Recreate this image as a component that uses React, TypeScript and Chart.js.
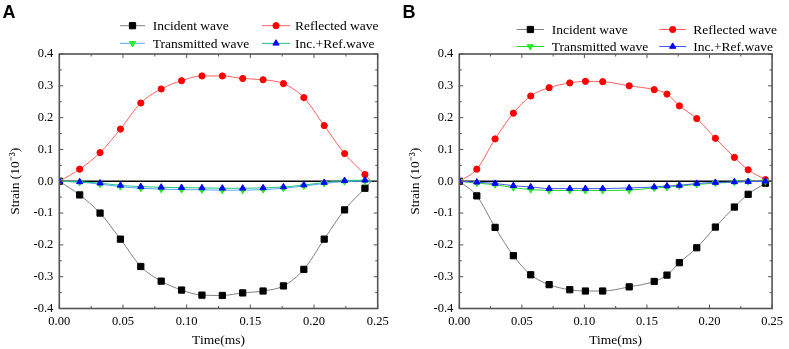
import React, { useEffect, useRef } from "react";
import { Chart, registerables } from "chart.js";
Chart.register(...registerables);

// ---------- Data ----------
const seriesNames = ["Incident wave", "Reflected wave", "Transmitted wave", "Inc.+Ref.wave"];

const timeA = [0, 0.016, 0.032, 0.048, 0.064, 0.08, 0.096, 0.112, 0.128, 0.144, 0.16, 0.176, 0.192, 0.208, 0.224, 0.24, 0.245];
const incidentA = [0, -0.043, -0.1, -0.182, -0.268, -0.314, -0.342, -0.358, -0.359, -0.351, -0.345, -0.329, -0.277, -0.182, -0.09, -0.022, 0];
const reflectedA = [0, 0.038, 0.09, 0.164, 0.246, 0.29, 0.316, 0.331, 0.331, 0.323, 0.319, 0.307, 0.263, 0.175, 0.087, 0.021, 0];
const transmittedA = [0, -0.003, -0.009, -0.017, -0.022, -0.025, -0.026, -0.027, -0.028, -0.028, -0.026, -0.022, -0.015, -0.007, -0.001, 0.0, 0];
const incRefA = [0, -0.002, -0.006, -0.013, -0.017, -0.019, -0.02, -0.021, -0.022, -0.022, -0.021, -0.018, -0.012, -0.004, 0.002, 0.003, 0];

const timeB = [0, 0.014, 0.0286, 0.0432, 0.0571, 0.0718, 0.0883, 0.1008, 0.1146, 0.1358, 0.1558, 0.166, 0.1759, 0.1898, 0.2047, 0.2199, 0.2309, 0.2447];
const incidentB = [0, -0.046, -0.145, -0.234, -0.294, -0.325, -0.341, -0.345, -0.345, -0.332, -0.315, -0.295, -0.256, -0.209, -0.144, -0.081, -0.041, -0.006];
const reflectedB = [0, 0.038, 0.133, 0.214, 0.268, 0.294, 0.309, 0.314, 0.313, 0.3, 0.288, 0.274, 0.237, 0.197, 0.135, 0.075, 0.036, 0.005];
const transmittedB = [0, -0.006, -0.011, -0.02, -0.026, -0.029, -0.029, -0.029, -0.029, -0.028, -0.021, -0.019, -0.015, -0.01, -0.006, -0.003, -0.001, 0];
const incRefB = [0, -0.003, -0.007, -0.014, -0.018, -0.023, -0.023, -0.023, -0.023, -0.021, -0.018, -0.015, -0.013, -0.007, -0.004, -0.002, -0.001, 0];

const xTickLabels = ["0.00", "0.05", "0.10", "0.15", "0.20", "0.25"];
const yTickLabels = ["-0.4", "-0.3", "-0.2", "-0.1", "0.0", "0.1", "0.2", "0.3", "0.4"];

// ---------- Styling ----------
const SERIF = '"Liberation Serif", "Times New Roman", serif';
const SANS = '"Liberation Sans", Arial, sans-serif';

type Style = { line: string; marker: string; shape: string; rot: number; r: number };

const stylesA: Style[] = [
  { line: "#808080", marker: "#000000", shape: "rect", rot: 0, r: 4.4 },
  { line: "#ff6060", marker: "#ff0000", shape: "circle", rot: 0, r: 3.1 },
  { line: "#55aaff", marker: "#22ee22", shape: "triangle", rot: 180, r: 3.6 },
  { line: "#22c08a", marker: "#0000ff", shape: "triangle", rot: 0, r: 3.6 },
];
const stylesB: Style[] = [
  { line: "#808080", marker: "#000000", shape: "rect", rot: 0, r: 4.4 },
  { line: "#ff6060", marker: "#ff0000", shape: "circle", rot: 0, r: 3.1 },
  { line: "#22dd22", marker: "#22ee22", shape: "triangle", rot: 180, r: 3.6 },
  { line: "#4455ff", marker: "#0000ff", shape: "triangle", rot: 0, r: 3.6 },
];

type Panel = {
  letter: string;
  width: number;
  padRight: number;
  time: number[];
  series: number[][];
  styles: Style[];
  hideLast: boolean;
  legendRows: number[];
  legendCols: { x0: number; x1: number; tx: number }[];
  letterY: number;
};

const panels: Panel[] = [
  {
    letter: "A",
    width: 400,
    padRight: 400 - 377.7,
    time: timeA,
    series: [incidentA, reflectedA, transmittedA, incRefA],
    styles: stylesA,
    hideLast: true,
    legendRows: [25.7, 43.3],
    legendCols: [
      { x0: 120, x1: 145, tx: 152.7 },
      { x0: 262, x1: 290, tx: 295 },
    ],
    letterY: 17.5,
  },
  {
    letter: "B",
    width: 389,
    padRight: 389 - 377.7,
    time: timeB,
    series: [incidentB, reflectedB, transmittedB, incRefB],
    styles: stylesB,
    hideLast: false,
    legendRows: [29.5, 46.5],
    legendCols: [
      { x0: 116.7, x1: 144, tx: 151.7 },
      { x0: 259.3, x1: 286, tx: 293.3 },
    ],
    letterY: 17.5,
  },
];

function drawMarker(ctx: CanvasRenderingContext2D, s: Style, x: number, y: number) {
  ctx.fillStyle = s.marker;
  ctx.strokeStyle = s.marker;
  ctx.lineWidth = 1;
  ctx.beginPath();
  if (s.shape === "rect") {
    const h = s.r * Math.SQRT1_2;
    ctx.rect(x - h, y - h, 2 * h, 2 * h);
  } else if (s.shape === "circle") {
    ctx.arc(x, y, s.r, 0, Math.PI * 2);
  } else {
    const dir = s.rot === 180 ? -1 : 1;
    const side = s.r * 3 / Math.sqrt(3);
    const height = side * Math.sqrt(3) / 2;
    ctx.moveTo(x, y - dir * (2 / 3) * height);
    ctx.lineTo(x - side / 2, y + dir * height / 3);
    ctx.lineTo(x + side / 2, y + dir * height / 3);
    ctx.closePath();
  }
  ctx.fill();
  ctx.stroke();
}

function makeFramePlugin(panel: Panel) {
  return {
    id: "frame" + panel.letter,
    beforeDatasetsDraw(chart: any) {
      const { ctx, chartArea: a, scales } = chart;
      const y0 = scales.y.getPixelForValue(0);
      ctx.save();
      ctx.strokeStyle = "#000";
      ctx.lineWidth = 1.4;
      ctx.beginPath();
      ctx.moveTo(a.left, y0);
      ctx.lineTo(a.right, y0);
      ctx.stroke();
      ctx.restore();
    },
    afterDraw(chart: any) {
      const { ctx, chartArea: a, scales } = chart;
      const xs = scales.x;
      const ys = scales.y;
      ctx.save();
      ctx.strokeStyle = "#555";
      ctx.lineWidth = 1.6;
      ctx.strokeRect(a.left, a.top, a.right - a.left, a.bottom - a.top);
      ctx.lineWidth = 1;
      ctx.beginPath();
      for (let i = 0; i <= 10; i++) {
        const px = xs.getPixelForValue(i * 0.025);
        const len = i % 2 === 0 ? 4 : 2.5;
        ctx.moveTo(px, a.bottom);
        ctx.lineTo(px, a.bottom - len);
        ctx.moveTo(px, a.top);
        ctx.lineTo(px, a.top + len);
      }
      for (let i = 0; i <= 16; i++) {
        const py = ys.getPixelForValue(-0.4 + i * 0.05);
        const len = i % 2 === 0 ? 4 : 2.5;
        ctx.moveTo(a.left, py);
        ctx.lineTo(a.left + len, py);
        ctx.moveTo(a.right, py);
        ctx.lineTo(a.right - len, py);
      }
      ctx.stroke();

      // legend
      panel.styles.forEach((s, i) => {
        const col = panel.legendCols[i % 2];
        const y = panel.legendRows[Math.floor(i / 2)];
        ctx.strokeStyle = s.line;
        ctx.lineWidth = 1;
        ctx.beginPath();
        ctx.moveTo(col.x0, y);
        ctx.lineTo(col.x1, y);
        ctx.stroke();
        drawMarker(ctx, s, (col.x0 + col.x1) / 2, y);
        ctx.fillStyle = "#000";
        ctx.font = `13.5px ${SERIF}`;
        ctx.textBaseline = "middle";
        ctx.textAlign = "left";
        ctx.fillText(seriesNames[i], col.tx, y + 1);
      });

      // panel letter
      ctx.fillStyle = "#000";
      ctx.font = `bold 18px ${SANS}`;
      ctx.textBaseline = "alphabetic";
      ctx.textAlign = "left";
      ctx.fillText(panel.letter, 2.5, panel.letterY);
      ctx.restore();
    },
  };
}

function PanelChart({ panel }: { panel: Panel }) {
  const ref = useRef<HTMLCanvasElement | null>(null);
  useEffect(() => {
    if (!ref.current) return;
    const n = panel.time.length;
    const datasets = panel.series.map((vals, i) => {
      const s = panel.styles[i];
      return {
        label: seriesNames[i],
        data: panel.time.map((t, k) => ({ x: t, y: vals[k] })),
        borderColor: s.line,
        borderWidth: 1,
        backgroundColor: s.marker,
        pointBackgroundColor: s.marker,
        pointBorderColor: s.marker,
        pointBorderWidth: 1,
        pointStyle: s.shape,
        pointRotation: s.rot,
        pointRadius: (c: any) => (panel.hideLast && c.dataIndex === n - 1 ? 0 : s.r),
        cubicInterpolationMode: "monotone" as const,
        fill: false,
        order: 4 - i,
      };
    });
    const chart = new Chart(ref.current, {
      type: "line",
      data: { datasets },
      options: {
        responsive: false,
        animation: false,
        maintainAspectRatio: false,
        devicePixelRatio: 1,
        layout: { padding: { left: 0, right: panel.padRight, top: 54, bottom: 0 } },
        plugins: { legend: { display: false }, tooltip: { enabled: false } },
        scales: {
          x: {
            type: "linear",
            min: 0,
            max: 0.25,
            grid: { display: false, drawTicks: false },
            border: { display: false },
            ticks: {
              stepSize: 0.05,
              autoSkip: false,
              maxRotation: 0,
              padding: 6,
              color: "#000",
              font: { family: SERIF, size: 12.5 },
              callback: (v: any) => xTickLabels[Math.round(Number(v) / 0.05)] ?? "",
            },
            title: {
              display: true,
              text: "Time(ms)",
              color: "#000",
              font: { family: SERIF, size: 13.5 },
              padding: { top: 0, bottom: 0.5 },
            },
            afterFit: (s: any) => {
              s.height = 40.5;
            },
          },
          y: {
            type: "linear",
            min: -0.4,
            max: 0.4,
            grid: { display: false, drawTicks: false },
            border: { display: false },
            ticks: {
              stepSize: 0.1,
              autoSkip: false,
              padding: 6,
              color: "#000",
              font: { family: SERIF, size: 12.5 },
              callback: (v: any) => yTickLabels[Math.round((Number(v) + 0.4) / 0.1)] ?? "",
            },
            title: {
              display: true,
              text: "Strain (10\u207B\u00B3)",
              color: "#000",
              font: { family: SERIF, size: 13.5 },
              padding: { top: 7, bottom: 0 },
            },
            afterFit: (s: any) => {
              s.width = 59.3;
            },
          },
        },
      },
      plugins: [makeFramePlugin(panel)],
    });
    return () => chart.destroy();
  }, [panel]);
  return (
    <canvas
      ref={ref}
      width={panel.width}
      height={349}
      style={{ display: "block", width: panel.width, height: 349 }}
    />
  );
}

export default function App() {
  return (
    <div
      style={{
        position: "fixed",
        left: 0,
        top: 0,
        width: 789,
        height: 349,
        display: "flex",
        background: "#fff",
      }}
    >
      {panels.map((p) => (
        <PanelChart key={p.letter} panel={p} />
      ))}
    </div>
  );
}
